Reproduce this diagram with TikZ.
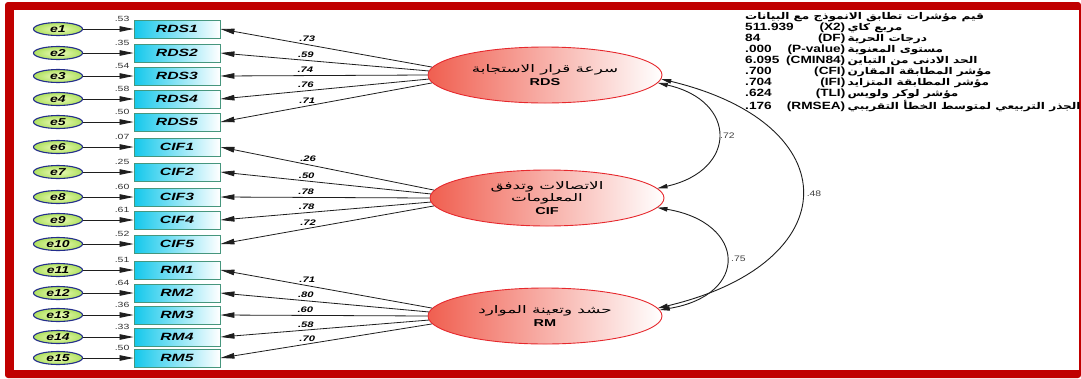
\documentclass[tikz,border=0pt]{standalone}
\usepackage{fontspec}
\setmainfont{Liberation Sans}
\newfontfamily\arabicfont[Script=Arabic]{DejaVu Sans}
\TeXXeTstate=1
\usepackage{graphicx}
\usetikzlibrary{shapes.geometric,arrows.meta}

\definecolor{framered}{RGB}{192,0,0}
\definecolor{boxborder}{RGB}{70,150,125}
\definecolor{boxcyan}{RGB}{20,200,235}
\definecolor{eborder}{RGB}{35,45,140}
\definecolor{einner}{RGB}{238,250,190}
\definecolor{eouter}{RGB}{175,225,95}
\definecolor{latborder}{RGB}{230,40,45}
\definecolor{latred}{RGB}{240,95,80}
\definecolor{linecol}{RGB}{30,30,30}

\newcommand{\sx}[2][1.4]{\scalebox{#1}[1]{#2}}
\newcommand{\artxt}[1]{{\arabicfont\beginR #1\endR}}
\newcommand{\arsize}{\fontsize{9.3}{11}\selectfont\bfseries}
\newcommand{\statline}[3]{\hbox to 77pt{\bfseries #1\hfill #2}\,{\arsize #3}}

\begin{document}
\begin{tikzpicture}[x=1pt,y=-1pt,
  errnode/.style={ellipse, draw=eborder, line width=1.1pt, inner color=einner, outer color=eouter, minimum width=49pt, minimum height=13pt, inner sep=0pt, font=\fontsize{10}{10}\selectfont\bfseries\itshape},
  obsbox/.style={rectangle, draw=boxborder, line width=0.9pt, left color=boxcyan, right color=white, minimum width=86pt, minimum height=18pt, inner sep=0pt, font=\fontsize{10.5}{10.5}\selectfont\bfseries\itshape},
  latent/.style={ellipse, draw=latborder, line width=0.9pt, left color=latred, middle color=latred!35, right color=white, minimum width=234pt, minimum height=56pt, inner sep=0pt, align=center, font=\fontsize{10.5}{12.5}\selectfont},
  arr/.style={draw=linecol, line width=0.8pt, -{Triangle[length=14pt,width=5.5pt]}},
  cov/.style={draw=linecol, line width=0.9pt, {Triangle[length=10pt,width=4.5pt]}-{Triangle[length=10pt,width=4.5pt]}},
  reslab/.style={font=\fontsize{7.5}{7.5}\selectfont, inner sep=0pt, text=black!80},
  loadlab/.style={font=\fontsize{8}{8}\selectfont\bfseries\itshape, inner sep=1.5pt},
  covlab/.style={font=\fontsize{8}{8}\selectfont, text=black!75, inner sep=2pt},
]
\fill[white] (0,0) rectangle (1081,378);
\useasboundingbox (0,0) rectangle (1081,378);
\fill[framered, rounded corners=3pt] (5,2) rectangle (1081,378);
\fill[white] (14,10) rectangle (1079,370);

% observed indicators with error terms
\foreach \i/\y/\nm/\rv in {1/29/RDS1/.53, 2/53/RDS2/.35, 3/76/RDS3/.54, 4/99/RDS4/.58, 5/122/RDS5/.50,
  6/147/CIF1/.07, 7/172/CIF2/.25, 8/197/CIF3/.60, 9/220/CIF4/.61, 10/244/CIF5/.52,
  11/270/RM1/.51, 12/293/RM2/.64, 13/315/RM3/.36, 14/337/RM4/.33, 15/358/RM5/.50} {
  \node[errnode] (e\i) at (58,\y) {\sx{e\i}};
  \node[obsbox] (\nm) at (177,\y) {\sx[1.5]{\nm}};
  \draw[arr] (e\i) -- (\nm);
  \node[reslab, anchor=east] (r\i) at ([xshift=-4pt, yshift=1pt]\nm.north west) {\sx{\rv}};
}

% latent factors
\node[latent] (RDS) at (545,75) {\sx[1.6]{\artxt{سرعة قرار الاستجابة}}\\ \sx[1.45]{\fontsize{10}{12}\selectfont\bfseries RDS}};
\node[latent] (CIF) at (547,198) {\sx[1.6]{\artxt{الاتصالات وتدفق}}\\ \sx[1.6]{\artxt{المعلومات}}\\ \sx[1.45]{\fontsize{10}{12}\selectfont\bfseries CIF}};
\node[latent] (RM) at (545,316) {\sx[1.6]{\artxt{حشد وتعينة الموارد}}\\ \sx[1.45]{\fontsize{10}{12}\selectfont\bfseries RM}};

% loadings
\foreach \lat/\bx/\ang/\val in {RDS/RDS1/176/.73, RDS/RDS2/178/.59, RDS/RDS3/180/.74, RDS/RDS4/182/.76, RDS/RDS5/184/.71,
  CIF/CIF1/176/.26, CIF/CIF2/178/.50, CIF/CIF3/180/.78, CIF/CIF4/182/.78, CIF/CIF5/184/.72,
  RM/RM1/176/.71, RM/RM2/178/.80, RM/RM3/180/.60, RM/RM4/182/.58, RM/RM5/184/.70} {
  \draw[arr] (\lat.\ang) -- node[loadlab, pos=0.59, above=1pt] (L\bx) {\sx{\val}} (\bx.east);
}

% covariances
\draw[cov] (RDS.-4) .. controls +(80,18) and +(80,-18) .. node[covlab, pos=0.5, right] (c72) {\sx[1.3]{.72}} (CIF.5);
\draw[cov] (RDS.-2) .. controls +(188,45) and +(190,-45) .. node[covlab, pos=0.5, right=3pt] (c48) {\sx[1.3]{.48}} (RM.4);
\draw[cov] (CIF.-5) .. controls +(89,15) and +(90,-15) .. node[covlab, pos=0.5, right=3pt] (c75) {\sx[1.3]{.75}} (RM.3);

% fit indices
\node[anchor=north west, inner sep=0pt, font=\fontsize{10.5}{11}\selectfont] (stats) at (745,12) {\sx[1.3]{\begin{tabular}{@{}l@{}}
{\arsize\artxt{قيم مؤشرات تطابق الانموذج مع البيانات}}\\
\statline{511.939}{(X2)}{\artxt{مربع كاي}}\\
\statline{84}{(DF)}{\artxt{درجات الحرية}}\\
\statline{.000}{(P-value)}{\artxt{مستوى المعنوية}}\\
\statline{6.095}{(CMIN84)}{\artxt{الحد الادنى من التباين}}\\
\statline{.700}{(CFI)}{\artxt{مؤشر المطابقة المقارن}}\\
\statline{.704}{(IFI)}{\artxt{مؤشر المطابقة المتزايد}}\\
\statline{.624}{(TLI)}{\artxt{مؤشر لوكر ولويس}}\\
\statline{.176}{(RMSEA)}{\artxt{الجذر التربيعي لمتوسط الخطأ التقريبي}}
\end{tabular}}};
\end{tikzpicture}
\end{document}
